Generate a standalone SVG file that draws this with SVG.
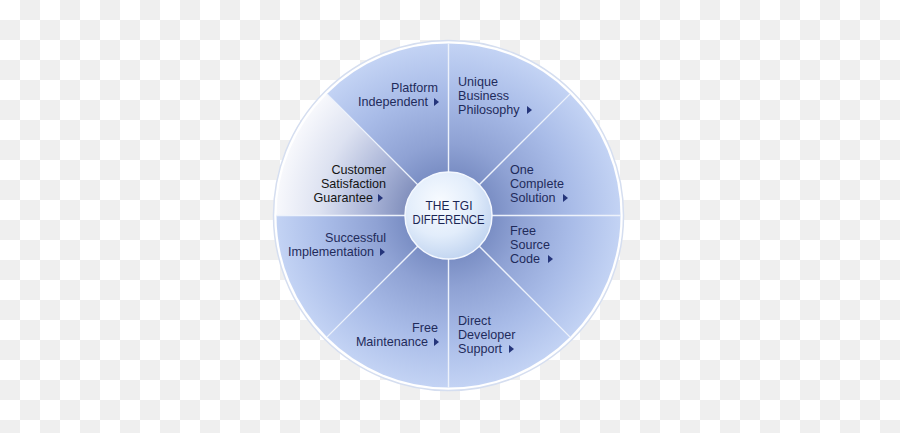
<svg xmlns="http://www.w3.org/2000/svg" xmlns:xlink="http://www.w3.org/1999/xlink" width="900" height="433" viewBox="0 0 900 433">
  <defs>
    <pattern id="checker" x="0" y="0" width="40" height="40" patternUnits="userSpaceOnUse">
      <rect width="40" height="40" fill="#ffffff"/>
      <rect x="20" y="0" width="20" height="20" fill="#efefef"/>
      <rect x="0" y="20" width="20" height="20" fill="#efefef"/>
    </pattern>
    <radialGradient id="sectorGrad" gradientUnits="userSpaceOnUse" cx="448.5" cy="215.5" r="172">
      <stop offset="0" stop-color="#6f84bd"/>
      <stop offset="0.25" stop-color="#7a8ec4"/>
      <stop offset="0.42" stop-color="#8fa2d4"/>
      <stop offset="0.72" stop-color="#a9bce8"/>
      <stop offset="1" stop-color="#c3d3f4"/>
    </radialGradient>
    <radialGradient id="highlightGrad" gradientUnits="userSpaceOnUse" cx="448.5" cy="215.5" r="172">
      <stop offset="0.25" stop-color="#8290bd"/>
      <stop offset="0.45" stop-color="#a7b2d6"/>
      <stop offset="0.75" stop-color="#dde2f1"/>
      <stop offset="1" stop-color="#f7f8fc"/>
    </radialGradient>
    <radialGradient id="hubGrad" cx="0.4" cy="0.35" r="0.7">
      <stop offset="0" stop-color="#f8fbff"/>
      <stop offset="0.55" stop-color="#e2edfb"/>
      <stop offset="1" stop-color="#bed2ef"/>
    </radialGradient>
    <path id="arr" d="M0,-8 L5,-4 L0,0 Z"/>
    <style>
      .sector { fill: url(#sectorGrad); }
      .hl { fill: url(#highlightGrad); }
      .lbl { font-family: "Liberation Sans", Arial, sans-serif; font-size: 12.6px; fill: #1f2b5b; }
      .lbl.dark { fill: #141414; }
      .end { text-anchor: end; }
      .arrow { fill: #25357a; }
      .divider { stroke: #edf2fb; stroke-width: 1.4; fill: none; }
      .hubtext { font-family: "Liberation Sans", Arial, sans-serif; font-size: 12.4px; fill: #1b2654; text-anchor: middle; }
    </style>
  </defs>

  <rect width="900" height="433" fill="url(#checker)"/>

  <g id="outer-ring">
    <circle cx="448.5" cy="215.5" r="175" fill="#ffffff" stroke="#d5def0" stroke-width="1.5"/>
  </g>

  <g id="node-platform">
    <path class="sector" d="M448.5,215.5 L326.88,93.88 A172,172 0 0 1 448.5,43.5 Z"/>
    <text class="lbl end" x="438" y="92">Platform</text>
    <text class="lbl end" x="428" y="106">Independent</text>
    <use class="arrow" xlink:href="#arr" x="434" y="106"/>
  </g>

  <g id="node-unique">
    <path class="sector" d="M448.5,215.5 L448.5,43.5 A172,172 0 0 1 570.12,93.88 Z"/>
    <text class="lbl" x="458" y="86">Unique</text>
    <text class="lbl" x="458" y="100">Business</text>
    <text class="lbl" x="458" y="114">Philosophy</text>
    <use class="arrow" xlink:href="#arr" x="527" y="114"/>
  </g>

  <g id="node-one-complete">
    <path class="sector" d="M448.5,215.5 L570.12,93.88 A172,172 0 0 1 620.5,215.5 Z"/>
    <text class="lbl" x="510" y="174">One</text>
    <text class="lbl" x="510" y="188">Complete</text>
    <text class="lbl" x="510" y="202">Solution</text>
    <use class="arrow" xlink:href="#arr" x="563" y="202"/>
  </g>

  <g id="node-free-source">
    <path class="sector" d="M448.5,215.5 L620.5,215.5 A172,172 0 0 1 570.12,337.12 Z"/>
    <text class="lbl" x="510" y="235">Free</text>
    <text class="lbl" x="510" y="249">Source</text>
    <text class="lbl" x="510" y="263">Code</text>
    <use class="arrow" xlink:href="#arr" x="548" y="263"/>
  </g>

  <g id="node-direct-developer">
    <path class="sector" d="M448.5,215.5 L570.12,337.12 A172,172 0 0 1 448.5,387.5 Z"/>
    <text class="lbl" x="458" y="325">Direct</text>
    <text class="lbl" x="458" y="339">Developer</text>
    <text class="lbl" x="458" y="353">Support</text>
    <use class="arrow" xlink:href="#arr" x="509" y="353"/>
  </g>

  <g id="node-free-maintenance">
    <path class="sector" d="M448.5,215.5 L448.5,387.5 A172,172 0 0 1 326.88,337.12 Z"/>
    <text class="lbl end" x="438" y="332">Free</text>
    <text class="lbl end" x="428" y="346">Maintenance</text>
    <use class="arrow" xlink:href="#arr" x="434" y="346"/>
  </g>

  <g id="node-successful">
    <path class="sector" d="M448.5,215.5 L326.88,337.12 A172,172 0 0 1 276.5,215.5 Z"/>
    <text class="lbl end" x="386" y="242">Successful</text>
    <text class="lbl end" x="374" y="256">Implementation</text>
    <use class="arrow" xlink:href="#arr" x="380" y="256"/>
  </g>

  <g id="node-customer">
    <path class="hl" d="M448.5,215.5 L276.5,215.5 A172,172 0 0 1 326.88,93.88 Z"/>
    <text class="lbl dark end" x="386" y="174">Customer</text>
    <text class="lbl dark end" x="386" y="188">Satisfaction</text>
    <text class="lbl dark end" x="373" y="202">Guarantee</text>
    <use class="arrow" xlink:href="#arr" x="378" y="202"/>
  </g>

  <g id="connectors">
    <line class="divider" x1="448.5" y1="43.5" x2="448.5" y2="387.5"/>
    <line class="divider" x1="276.5" y1="215.5" x2="620.5" y2="215.5"/>
    <line class="divider" x1="326.88" y1="93.88" x2="570.12" y2="337.12"/>
    <line class="divider" x1="570.12" y1="93.88" x2="326.88" y2="337.12"/>
  </g>

  <g id="node-hub">
    <circle cx="448.5" cy="215.5" r="43.5" fill="url(#hubGrad)" stroke="#f4f8ff" stroke-width="1.5"/>
    <text class="hubtext" x="449" y="210" textLength="47" lengthAdjust="spacingAndGlyphs">THE TGI</text>
    <text class="hubtext" x="448.5" y="224" textLength="72" lengthAdjust="spacingAndGlyphs">DIFFERENCE</text>
  </g>
</svg>
